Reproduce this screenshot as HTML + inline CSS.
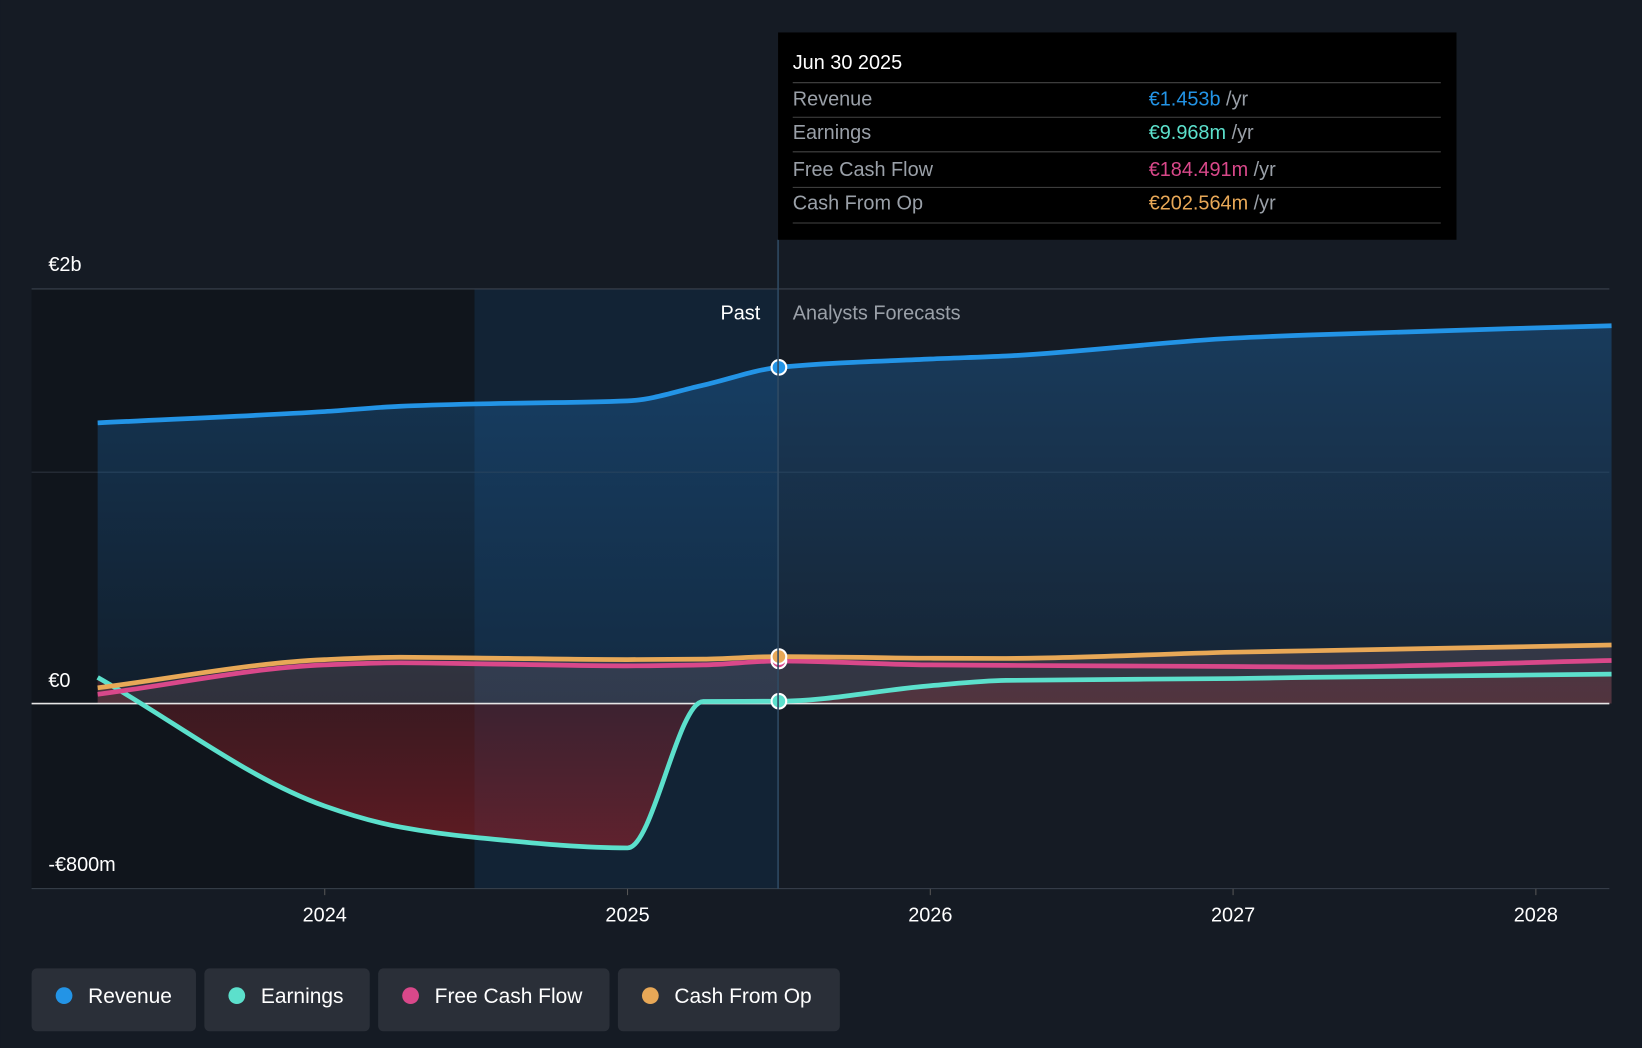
<!DOCTYPE html>
<html><head><meta charset="utf-8">
<style>
html,body{margin:0;padding:0;background:#151b24;}
svg{display:block;font-family:"Liberation Sans",sans-serif;}
</style></head>
<body>
<svg id="chart" width="1642" height="1048" viewBox="0 0 1568 1001" xmlns="http://www.w3.org/2000/svg">
<defs>
<linearGradient id="revFill" x1="0" y1="0" x2="0" y2="1">
<stop offset="0" stop-color="#1e6bb0" stop-opacity="0.4"/>
<stop offset="1" stop-color="#1e6bb0" stop-opacity="0.1"/>
</linearGradient>
<linearGradient id="earnFill" x1="0" y1="0" x2="0" y2="1">
<stop offset="0" stop-color="#7a2028" stop-opacity="0.35"/>
<stop offset="1" stop-color="#a02028" stop-opacity="0.55"/>
</linearGradient>
</defs>
<rect width="1568" height="1001" fill="#151b24"/>
<rect x="30" y="276" width="423" height="573" fill="#10151c"/>
<rect x="453" y="276" width="290" height="573" fill="#12263a" opacity="0.8"/>
<g id="grid"></g>
<g id="series"></g>
<line x1="743" y1="229" x2="743" y2="849" stroke="#2f4a63" stroke-width="1.5"/>
<text x="726" y="305" fill="#ffffff" font-size="19" text-anchor="end">Past</text>
<text x="757" y="305" fill="#9aa0a8" font-size="19">Analysts Forecasts</text>
<g id="xticks"></g>
<g>
<rect x="743" y="31" width="648" height="198" fill="#000"/>
<text x="757" y="66" fill="#fff" font-size="19">Jun 30 2025</text>
<line x1="757" y1="79" x2="1376" y2="79" stroke="#444"/>
<text x="757" y="101" fill="#9aa0a8" font-size="19">Revenue</text>
<text x="1097" y="101" font-size="19"><tspan fill="#2394e6">€1.453b</tspan><tspan fill="#9aa0a8"> /yr</tspan></text>
<line x1="757" y1="112" x2="1376" y2="112" stroke="#444"/>
<text x="757" y="133" fill="#9aa0a8" font-size="19">Earnings</text>
<text x="1097" y="133" font-size="19"><tspan fill="#5ce0cc">€9.968m</tspan><tspan fill="#9aa0a8"> /yr</tspan></text>
<line x1="757" y1="145" x2="1376" y2="145" stroke="#444"/>
<text x="757" y="168" fill="#9aa0a8" font-size="19">Free Cash Flow</text>
<text x="1097" y="168" font-size="19"><tspan fill="#d9488a">€184.491m</tspan><tspan fill="#9aa0a8"> /yr</tspan></text>
<line x1="757" y1="179" x2="1376" y2="179" stroke="#444"/>
<text x="757" y="200" fill="#9aa0a8" font-size="19">Cash From Op</text>
<text x="1097" y="200" font-size="19"><tspan fill="#e8a857">€202.564m</tspan><tspan fill="#9aa0a8"> /yr</tspan></text>
<line x1="757" y1="213" x2="1376" y2="213" stroke="#444"/>
</g>
<g id="legend"></g>
</svg>
<script>
const years=[2023.25,2024.0,2024.25,2024.5,2025.0,2025.25,2025.5,2026.0,2026.25,2027.0,2027.25,2028.25];
const revenue=[1.213,1.262,1.285,1.295,1.308,1.376,1.453,1.489,1.502,1.579,1.593,1.633];
const earnings=[0.113,-0.443,-0.534,-0.579,-0.624,0.009,0.010,0.077,0.100,0.108,0.113,0.127];
const fcf=[0.040,0.167,0.176,0.172,0.163,0.167,0.184,0.167,0.165,0.160,0.158,0.186];
const cfo=[0.068,0.190,0.200,0.197,0.190,0.192,0.203,0.196,0.195,0.222,0.228,0.253];
const xTickLabels=["2024","2025","2026","2027","2028"];
const xTickValues=[2024,2025,2026,2027,2028];
const yTickLabels=["€2b","€0","-€800m"];
const NS="http://www.w3.org/2000/svg";
function X(t){return 310+(t-2024)*289.2;}
function Y(v){return 672-v*221;}
function el(tag,attrs,parent){const e=document.createElementNS(NS,tag);for(const k in attrs)e.setAttribute(k,attrs[k]);parent.appendChild(e);return e;}
function path(vals){
  const p=years.map((t,i)=>[X(t),Y(vals[i])]);
  const n=p.length,d=[],m=new Array(n);
  for(let i=0;i<n-1;i++)d.push((p[i+1][1]-p[i][1])/(p[i+1][0]-p[i][0]));
  m[0]=d[0];m[n-1]=d[n-2];
  for(let i=1;i<n-1;i++){
    if(d[i-1]*d[i]<=0)m[i]=0;
    else{const h0=p[i][0]-p[i-1][0],h1=p[i+1][0]-p[i][0];
      const w1=2*h1+h0,w2=h1+2*h0;m[i]=(w1+w2)/(w1/d[i-1]+w2/d[i]);}
  }
  let s="M"+p[0][0]+","+p[0][1];
  for(let i=0;i<n-1;i++){
    const h=(p[i+1][0]-p[i][0])/3;
    s+=" C"+(p[i][0]+h)+","+(p[i][1]+m[i]*h)+" "+(p[i+1][0]-h)+","+(p[i+1][1]-m[i+1]*h)+" "+p[i+1][0]+","+p[i+1][1];
  }
  return s;
}
const grid=document.getElementById('grid');
let g;
g=el('line',{x1:30,x2:1537,y1:276,y2:276,stroke:'#3a424d','stroke-width':1},grid);

g=el('line',{x1:30,x2:1537,y1:Y(1),y2:Y(1),stroke:'#2a323c','stroke-width':1},grid);

g=el('line',{x1:30,x2:1537,y1:Y(-0.8),y2:Y(-0.8),stroke:'#3a424d','stroke-width':1},grid);

const ylabPos=[253,650,826];
yTickLabels.forEach((l,i)=>{const t=el('text',{x:46,y:ylabPos[i]+6,fill:'#fff','font-size':19},grid);t.textContent=l;
});
const s=document.getElementById('series');
const x0=X(years[0]),xN=X(years[years.length-1]);
let a=el('path',{d:path(revenue)+` L${xN},${Y(0)} L${x0},${Y(0)} Z`,fill:'url(#revFill)'},s);

a=el('path',{d:path(earnings)+` L${xN},${Y(0)} L${x0},${Y(0)} Z`,fill:'url(#earnFill)'},s);

a=el('path',{d:path(cfo)+` L${xN},${Y(0)} L${x0},${Y(0)} Z`,fill:'#8a6a70',opacity:0.25},s);

const zl=el('line',{x1:30,x2:1537,y1:Y(0),y2:Y(0),stroke:'#e6e6e6','stroke-width':1.5},s);

const defs=[[revenue,'#2394e6','revenue-line'],[earnings,'#5ce0cc','earnings-line'],[fcf,'#d9488a','free-cash-flow-line'],[cfo,'#e8a857','cash-from-op-line']];
defs.forEach(([v,c,n])=>{const p=el('path',{d:path(v),fill:'none',stroke:c,'stroke-width':4.5},s);
});
const iNow=years.indexOf(2025.5);
[[fcf,'#d9488a'],[earnings,'#5ce0cc'],[revenue,'#2394e6'],[cfo,'#e8a857']].forEach(([v,c])=>{
 const d=el('circle',{cx:X(years[iNow]),cy:Y(v[iNow]),r:7,fill:c,stroke:'#fff','stroke-width':2},s);
 });
const xt=document.getElementById('xticks');
xTickValues.forEach((t,i)=>{
 const l=el('line',{x1:X(t),x2:X(t),y1:849,y2:855,stroke:'#555'},xt);
 
 const tx=el('text',{x:X(t),y:880,fill:'#fff','font-size':19,'text-anchor':'middle'},xt);tx.textContent=xTickLabels[i];
 });
const lg=document.getElementById('legend');
const items=[['Revenue','#2394e6',30,157],['Earnings','#5ce0cc',195,158],['Free Cash Flow','#d9488a',361,221],['Cash From Op','#e8a857',590,212]];
items.forEach(([n,c,x,w])=>{
 const grp=el('g',{},lg);
 
 
 el('rect',{x:x,y:925,width:w,height:60,rx:5,fill:'#2a2f38'},grp);
 el('circle',{cx:x+31,cy:951,r:8,fill:c},grp);
 const t=el('text',{x:x+54,y:958,fill:'#fff','font-size':20},grp);t.textContent=n;});
</script>
</body></html>
